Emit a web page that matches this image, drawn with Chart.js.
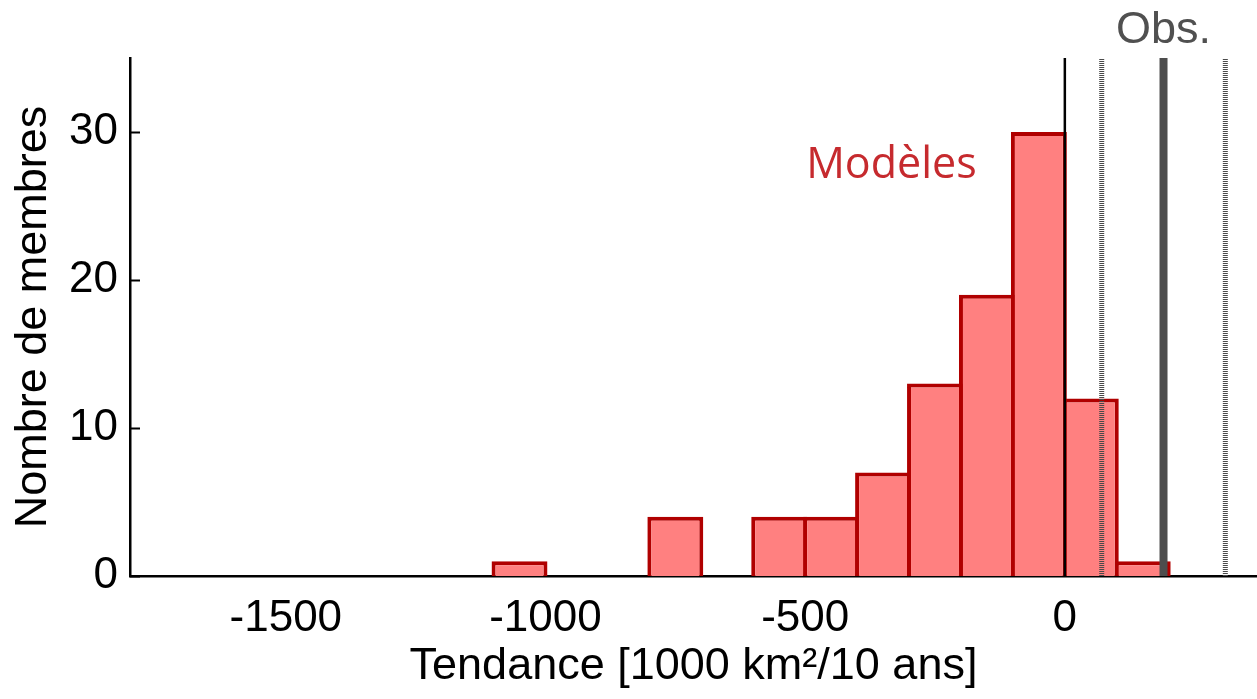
<!DOCTYPE html>
<html lang="fr">
<head>
<meta charset="utf-8">
<title>Tendance des membres</title>
<script src="https://cdn.jsdelivr.net/npm/chart.js@4.4.1/dist/chart.umd.min.js"></script>
<style>
  html, body { margin: 0; padding: 0; background: #ffffff; }
  #wrap { width: 1257px; height: 699px; }
</style>
</head>
<body>
<div id="wrap"><canvas id="chart" width="1257" height="699"></canvas></div>
<script>
// Histogram bins (centres, width 100) and number of members in each
const binCenters   = [-1050, -750, -550, -450, -350, -250, -150, -50, 50, 150];
const memberCounts = [1, 4, 4, 4, 7, 13, 19, 30, 12, 1];

// Observed trend and its uncertainty range
const obsTrend = 190;
const obsLow   = 71;
const obsHigh  = 309;

// Axis ranges and tick labels
const xRange = [-1800, 370];
const yRange = [0, 35];
const xTicks = [-1500, -1000, -500, 0];
const yTicks = [0, 10, 20, 30];

const FONT = "'Liberation Sans', Arial, sans-serif";

const vline = (x) => [{ x: x, y: yRange[0] }, { x: x, y: yRange[1] }];

// Inward y ticks plus the two annotations
const extras = {
  id: 'extras',
  afterDatasetsDraw(chart) {
    const { ctx, scales: { x, y } } = chart;
    ctx.save();
    ctx.strokeStyle = '#000000';
    ctx.lineWidth = 2;
    yTicks.forEach(v => {
      const py = Math.round(y.getPixelForValue(v)) + 0.5;
      ctx.beginPath();
      ctx.moveTo(x.left, py);
      ctx.lineTo(x.left + 10, py);
      ctx.stroke();
    });

    ctx.fillStyle = '#505050';
    ctx.font = "45px " + FONT;
    ctx.textAlign = 'center';
    ctx.textBaseline = 'alphabetic';
    ctx.fillText('Obs.', x.getPixelForValue(obsTrend), 43);

    ctx.fillStyle = '#c62a2e';
    ctx.font = "43px 'Open Sans', 'Noto Sans', sans-serif";
    ctx.textAlign = 'left';
    ctx.fillText('Modèles', x.getPixelForValue(-498), y.getPixelForValue(26.9));
    ctx.restore();
  }
};

new Chart(document.getElementById('chart'), {
  type: 'bar',
  data: {
    datasets: [
      {
        type: 'line', data: vline(0), borderColor: '#000000', borderWidth: 2.5,
        pointRadius: 0, order: 0
      },
      {
        type: 'line', data: vline(obsTrend), borderColor: '#4d4d4d', borderWidth: 8,
        pointRadius: 0, order: 0
      },
      {
        type: 'line', data: vline(obsLow), borderColor: '#4a4a4a', borderWidth: 5,
        borderDash: [1, 1], pointRadius: 0, order: 0
      },
      {
        type: 'line', data: vline(obsHigh), borderColor: '#4a4a4a', borderWidth: 5,
        borderDash: [1, 1], pointRadius: 0, order: 0
      },
      {
        type: 'bar',
        data: binCenters.map((c, i) => ({ x: c, y: memberCounts[i] })),
        backgroundColor: '#ff8080',
        borderColor: '#b00000',
        borderWidth: 4,
        borderSkipped: 'start',
        // slight overlap so neighbouring outlines merge into one divider
        barPercentage: 1.077,
        categoryPercentage: 1,
        order: 1
      }
    ]
  },
  options: {
    responsive: false,
    devicePixelRatio: 1,
    animation: false,
    layout: { padding: { top: 58, right: 0, left: 0, bottom: 0 } },
    plugins: { legend: { display: false }, tooltip: { enabled: false } },
    scales: {
      x: {
        type: 'linear',
        offset: false,
        min: xRange[0],
        max: xRange[1],
        afterBuildTicks: s => { s.ticks = xTicks.map(v => ({ value: v })); },
        afterFit: s => { s.height = 123; },
        grid: { display: false, drawTicks: false },
        border: { display: true, color: '#000000', width: 2.5 },
        ticks: {
          color: '#000000', padding: 16, maxRotation: 0, autoSkip: false,
          font: { family: FONT, size: 44 },
          callback: v => String(v)
        },
        title: {
          display: true, text: 'Tendance [1000 km²/10 ans]', color: '#000000',
          font: { family: FONT, size: 45 }, padding: { top: 0, bottom: 5 }
        }
      },
      y: {
        min: yRange[0],
        max: yRange[1],
        afterBuildTicks: s => { s.ticks = yTicks.map(v => ({ value: v })); },
        afterFit: s => { s.width = 130; },
        grid: { display: false, drawTicks: false },
        border: { display: true, color: '#000000', width: 2.5 },
        ticks: {
          color: '#000000', padding: 12,
          font: { family: FONT, size: 44 },
          callback: v => String(v)
        },
        title: {
          display: true, text: 'Nombre de membres', color: '#000000',
          font: { family: FONT, size: 45 }, padding: { top: 7, bottom: 0 }
        }
      }
    }
  },
  plugins: [extras]
});
</script>
</body>
</html>
